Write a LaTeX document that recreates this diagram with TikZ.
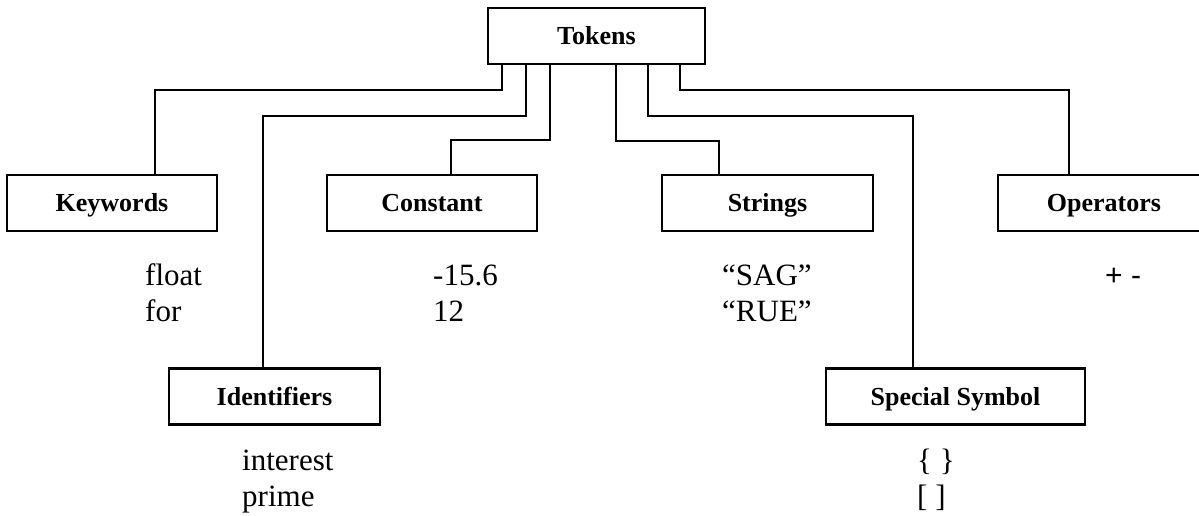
\documentclass[tikz,border=0pt]{standalone}
\usepackage{fontspec}
\setmainfont{Liberation Serif}
\newfontfamily\opfont{Liberation Sans}
\begin{document}
\begin{tikzpicture}[x=1pt,y=-1pt,
  box/.style={draw,line width=2.2pt,rectangle,inner sep=0pt,minimum height=56pt,
    text height=17pt,text depth=0pt,
    font=\fontsize{26}{30}\selectfont\bfseries},
  conn/.style={line width=2.2pt},
  item/.style={anchor=base west,inner sep=0pt,
    font=\fontsize{31}{36}\selectfont}]
\useasboundingbox (0,0) rectangle (1199,516);
\clip (0,0) rectangle (1199,516);

% category boxes
\node[box,minimum width=217pt] (tok) at (596.5,36) {Tokens};
\node[box,minimum width=210pt] (kw)  at (112,203) {Keywords};
\node[box,minimum width=210pt] (con) at (432,203) {Constant};
\node[box,minimum width=211pt] (str) at (767.5,203) {Strings};
\node[box,minimum width=212pt] (op)  at (1104,203) {Operators};
\node[box,minimum width=211pt] (idf) at (274.5,396.5) {Identifiers};
\node[box,minimum width=259pt] (sym) at (955.5,396.5) {Special Symbol};

% elbow connectors from Tokens
\draw[conn] ([xshift=15pt]tok.south west)  -- ++(0,25) -| ([xshift=43pt]kw.north);
\draw[conn] ([xshift=39pt]tok.south west)  -- ++(0,51) -| ([xshift=-11.5pt]idf.north);
\draw[conn] ([xshift=63pt]tok.south west)  -- ++(0,75) -| ([xshift=19pt]con.north);
\draw[conn] ([xshift=129pt]tok.south west) -- ++(0,76) -| ([xshift=-48.5pt]str.north);
\draw[conn] ([xshift=161pt]tok.south west) -- ++(0,51) -| ([xshift=-42.5pt]sym.north);
\draw[conn] ([xshift=193pt]tok.south west) -- ++(0,25) -| ([xshift=-35pt]op.north);

% examples, one line each
\node[item] (kwa)  at (145,285) {float};
\node[item] (kwb)  at (145,321) {for};
\node[item] (cona) at (433,285) {-15.6};
\node[item] (conb) at (433,321) {12};
\node[item] (stra) at (722,285) {“SAG”};
\node[item] (strb) at (722,321) {“RUE”};
\node[item,font=\fontsize{30}{36}\opfont] (opa) at (1105,285) {+ -};
\node[item] (idfa) at (242,470) {interest};
\node[item] (idfb) at (242,506) {prime};
\node[item] (syma) at (917,470) {\{ \}};
\node[item] (symb) at (917,506) {[ ]};
\end{tikzpicture}
\end{document}
